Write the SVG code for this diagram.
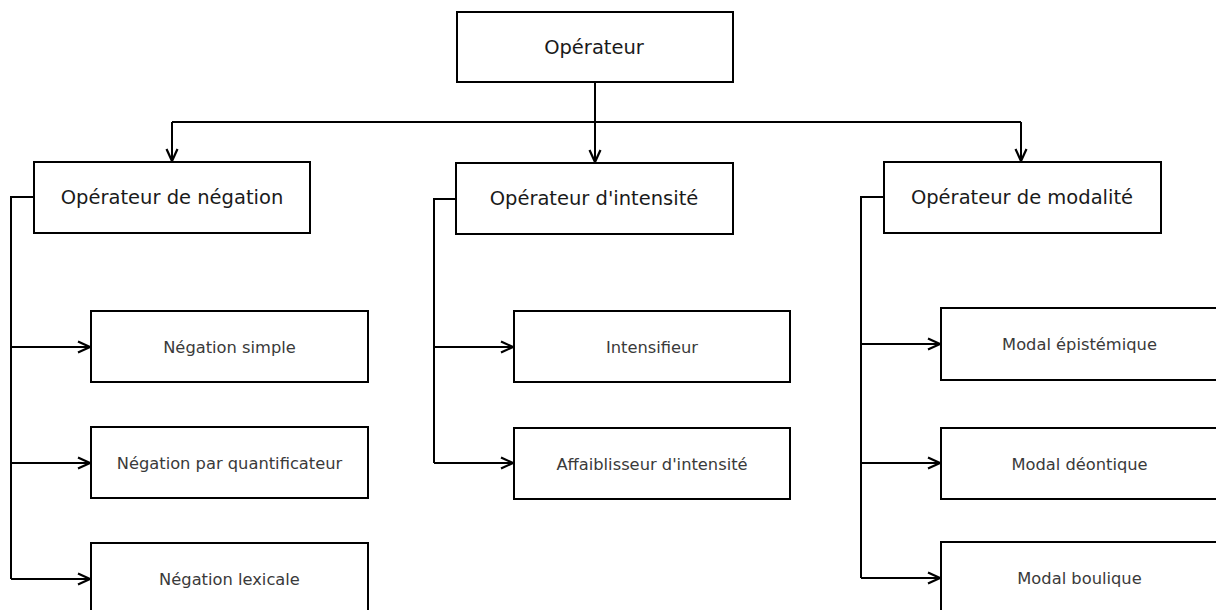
<svg xmlns="http://www.w3.org/2000/svg" width="1216" height="610" viewBox="0 0 1216 610">
  <style>
    .box { fill: #ffffff; stroke: #000000; stroke-width: 2; }
    .head { font-family: "DejaVu Sans", sans-serif; font-size: 19.5px; fill: #1a1a1a; text-anchor: middle; }
    .leaf { font-family: "DejaVu Sans", sans-serif; font-size: 16.3px; fill: #3a3a3a; text-anchor: middle; }
    .wire { fill: none; stroke: #000000; stroke-width: 2; }
  </style>
  <defs>
    <marker id="open" markerWidth="16" markerHeight="16" refX="13" refY="7" orient="auto" markerUnits="userSpaceOnUse">
      <path d="M1,1.5 L13,7 L1,12.5" fill="none" stroke="#000000" stroke-width="2.2"/>
    </marker>
  </defs>
  <rect width="1216" height="610" fill="#ffffff"/>

  <g id="connectors">
    <!-- root to the three operator families -->
    <path class="wire" d="M595,82 V162" marker-end="url(#open)"/>
    <path class="wire" d="M172,122 H1021"/>
    <path class="wire" d="M172,122 V161" marker-end="url(#open)"/>
    <path class="wire" d="M1021,122 V161" marker-end="url(#open)"/>
    <!-- negation branch -->
    <path class="wire" d="M34,197 H11 V579"/>
    <path class="wire" d="M11,347 H90" marker-end="url(#open)"/>
    <path class="wire" d="M11,463 H90" marker-end="url(#open)"/>
    <path class="wire" d="M11,579 H90" marker-end="url(#open)"/>
    <!-- intensity branch -->
    <path class="wire" d="M456,199 H434 V463"/>
    <path class="wire" d="M434,347 H513" marker-end="url(#open)"/>
    <path class="wire" d="M434,463 H513" marker-end="url(#open)"/>
    <!-- modality branch -->
    <path class="wire" d="M884,197 H861 V578"/>
    <path class="wire" d="M861,344 H940" marker-end="url(#open)"/>
    <path class="wire" d="M861,463 H940" marker-end="url(#open)"/>
    <path class="wire" d="M861,578 H940" marker-end="url(#open)"/>
  </g>

  <g id="operateur">
    <rect class="box" x="457" y="12" width="276" height="70"/>
    <text class="head" x="594" y="54">Opérateur</text>
  </g>

  <g id="op-negation">
    <rect class="box" x="34" y="162" width="276" height="71"/>
    <text class="head" x="172" y="204">Opérateur de négation</text>
  </g>
  <g id="op-intensite">
    <rect class="box" x="456" y="163" width="277" height="71"/>
    <text class="head" x="594" y="205">Opérateur d'intensité</text>
  </g>
  <g id="op-modalite">
    <rect class="box" x="884" y="162" width="277" height="71"/>
    <text class="head" x="1022" y="204">Opérateur de modalité</text>
  </g>

  <g id="negation-simple">
    <rect class="box" x="91" y="311" width="277" height="71"/>
    <text class="leaf" x="229.5" y="353">Négation simple</text>
  </g>
  <g id="negation-quantificateur">
    <rect class="box" x="91" y="427" width="277" height="71"/>
    <text class="leaf" x="229.5" y="469">Négation par quantificateur</text>
  </g>
  <g id="negation-lexicale">
    <rect class="box" x="91" y="543" width="277" height="71"/>
    <text class="leaf" x="229.5" y="585">Négation lexicale</text>
  </g>

  <g id="intensifieur">
    <rect class="box" x="514" y="311" width="276" height="71"/>
    <text class="leaf" x="652" y="353">Intensifieur</text>
  </g>
  <g id="affaiblisseur">
    <rect class="box" x="514" y="428" width="276" height="71"/>
    <text class="leaf" x="652" y="470">Affaiblisseur d'intensité</text>
  </g>

  <g id="modal-epistemique">
    <rect class="box" x="941" y="308" width="277" height="72"/>
    <text class="leaf" x="1079.5" y="350">Modal épistémique</text>
  </g>
  <g id="modal-deontique">
    <rect class="box" x="941" y="428" width="277" height="71"/>
    <text class="leaf" x="1079.5" y="470">Modal déontique</text>
  </g>
  <g id="modal-boulique">
    <rect class="box" x="941" y="542" width="277" height="72"/>
    <text class="leaf" x="1079.5" y="584">Modal boulique</text>
  </g>
</svg>
